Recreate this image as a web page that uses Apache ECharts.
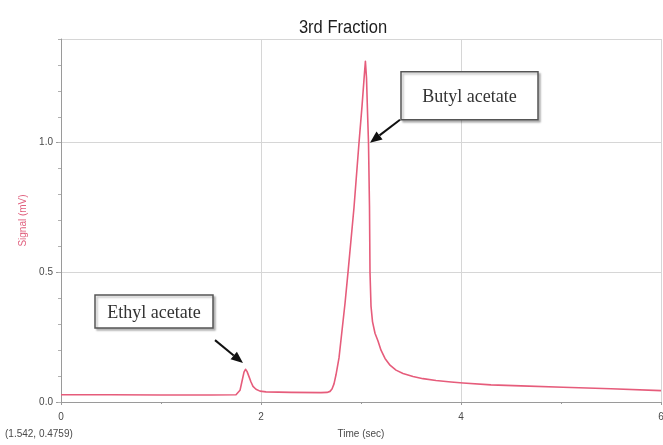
<!DOCTYPE html>
<html>
<head>
<meta charset="utf-8">
<script src="https://cdn.jsdelivr.net/npm/echarts@6/dist/echarts.min.js"></script>
<style>
  html, body { margin: 0; padding: 0; background: #ffffff; }
  #chart { width: 663px; height: 445px; }
</style>
</head>
<body>
<div id="chart"></div>
<script>
// Chromatogram trace: retention time (s) and detector signal (mV)
const timeSec = [
  0.00, 0.50, 1.00, 1.50, 1.75, 1.77, 1.79, 1.81, 1.83, 1.845, 1.86, 1.88, 1.90, 1.92,
  1.95, 1.99, 2.05, 2.30, 2.60, 2.66, 2.69, 2.71, 2.73, 2.75, 2.78, 2.80, 2.84, 2.87,
  2.93, 2.98, 3.01, 3.035, 3.044, 3.055, 3.065, 3.075, 3.085, 3.09, 3.10, 3.115, 3.14,
  3.17, 3.20, 3.24, 3.29, 3.35, 3.42, 3.52, 3.62, 3.75, 3.90, 4.02, 4.30, 4.60, 5.02,
  5.50, 6.00
];
const signalMv = [
  0.028, 0.028, 0.027, 0.027, 0.028, 0.031, 0.045, 0.080, 0.115, 0.126, 0.118, 0.098, 0.077, 0.060,
  0.049, 0.042, 0.039, 0.037, 0.036, 0.037, 0.041, 0.050, 0.070, 0.105, 0.170, 0.240, 0.380, 0.500,
  0.750, 1.000, 1.140, 1.270, 1.314, 1.250, 1.120, 1.000, 0.750, 0.500, 0.370, 0.310, 0.265,
  0.235, 0.200, 0.168, 0.142, 0.123, 0.110, 0.098, 0.090, 0.083, 0.077, 0.073, 0.066, 0.062, 0.057,
  0.051, 0.044
];

// Peak call-outs: label and the point on the trace the arrow points at
const peakNames = ['Ethyl acetate', 'Butyl acetate'];
const peakTime = [1.82, 3.09];
const peakSignal = [0.15, 1.00];

const chartTitle = '3rd Fraction';
const cursorReadout = '(1.542, 0.4759)';

const chart = echarts.init(document.getElementById('chart'), null, { renderer: 'canvas' });

const axisGray = '#9a9a9a';
const gridGray = '#d6d6d6';
const labelGray = '#4a4a4a';
const traceColor = '#e65c7b';

chart.setOption({
  backgroundColor: '#ffffff',
  animation: false,
  grid: { left: 61, right: 2, top: 39, bottom: 43, outerBoundsMode: 'none', containLabel: false },
  xAxis: {
    type: 'value',
    min: 0, max: 6, interval: 2,
    name: 'Time (sec)',
    nameLocation: 'middle',
    nameGap: 27,
    nameTextStyle: { fontFamily: 'Liberation Sans', fontSize: 10, color: labelGray },
    axisLine: { lineStyle: { color: axisGray, width: 1 } },
    axisTick: { show: true, length: 3, lineStyle: { color: axisGray } },
    minorTick: { show: true, splitNumber: 2, length: 2, lineStyle: { color: axisGray } },
    axisLabel: { fontFamily: 'Liberation Sans', fontSize: 10, color: labelGray, margin: 10 },
    splitLine: { show: true, lineStyle: { color: gridGray, width: 1 } }
  },
  yAxis: [
    {
      type: 'value',
      min: 0, max: 1.4, interval: 0.5,
      name: 'Signal (mV)',
      nameLocation: 'middle',
      nameRotate: 90,
      nameGap: 32,
      nameTextStyle: { fontFamily: 'Liberation Sans', fontSize: 10, color: '#e0607e' },
      axisLine: { show: true, lineStyle: { color: axisGray, width: 1 } },
      axisTick: { show: true, length: 5, lineStyle: { color: axisGray } },
      axisLabel: {
        fontFamily: 'Liberation Sans', fontSize: 10, color: labelGray, margin: 8,
        showMaxLabel: false,
        formatter: v => v.toFixed(1)
      },
      splitLine: { show: true, lineStyle: { color: gridGray, width: 1 } }
    },
    {
      // finer tick marks every 0.1 mV
      type: 'value',
      min: 0, max: 1.4, interval: 0.1,
      position: 'left',
      axisLine: { show: false },
      axisTick: { show: true, length: 3, lineStyle: { color: '#b0b0b0' } },
      axisLabel: { show: false },
      splitLine: { show: false }
    }
  ],
  series: [{
    type: 'line',
    yAxisIndex: 0,
    data: timeSec.map((t, i) => [t, signalMv[i]]),
    showSymbol: false,
    smooth: false,
    lineStyle: { color: traceColor, width: 1.6, join: 'round' },
    z: 3
  }]
});

// Draw the call-out boxes with arrows pointing at each peak
function callout(name, tip, box, start) {
  const els = [];
  const ang = Math.atan2(tip[1] - start[1], tip[0] - start[0]);
  const headLen = 12, headHalf = 5;
  const bx = tip[0] - headLen * Math.cos(ang);
  const by = tip[1] - headLen * Math.sin(ang);
  const nx = -Math.sin(ang), ny = Math.cos(ang);
  els.push({
    type: 'rect',
    shape: { x: box[0], y: box[1], width: box[2], height: box[3] },
    style: {
      fill: '#ffffff', stroke: '#555555', lineWidth: 1.5,
      shadowBlur: 2, shadowOffsetX: 2, shadowOffsetY: 2, shadowColor: 'rgba(0,0,0,0.25)'
    },
    z: 20
  });
  els.push({
    type: 'text',
    x: box[0] + box[2] / 2,
    y: box[1] + box[3] / 2 + 1,
    scaleX: 0.95,
    style: {
      text: name, fill: '#333333',
      font: '19px "Liberation Serif", "DejaVu Serif", serif',
      align: 'center', verticalAlign: 'middle'
    },
    z: 21
  });
  els.push({
    type: 'line',
    shape: { x1: start[0], y1: start[1], x2: bx, y2: by },
    style: { stroke: '#111111', lineWidth: 2 },
    z: 22
  });
  els.push({
    type: 'polygon',
    shape: { points: [
      [tip[0], tip[1]],
      [bx + nx * headHalf, by + ny * headHalf],
      [bx - nx * headHalf, by - ny * headHalf]
    ] },
    style: { fill: '#111111' },
    z: 22
  });
  return els;
}

const tipEthyl = chart.convertToPixel({ gridIndex: 0 }, [peakTime[0], peakSignal[0]]);
const tipButyl = chart.convertToPixel({ gridIndex: 0 }, [peakTime[1], peakSignal[1]]);

const graphics = []
  .concat(callout(peakNames[0], tipEthyl,
    [tipEthyl[0] - 148, tipEthyl[1] - 68, 118, 33],
    [tipEthyl[0] - 28, tipEthyl[1] - 23]))
  .concat(callout(peakNames[1], tipButyl,
    [tipButyl[0] + 31, tipButyl[1] - 71, 137, 48],
    [tipButyl[0] + 30, tipButyl[1] - 23]));

// Condensed chart title
graphics.push({
  type: 'text',
  x: 343,
  y: 28,
  scaleX: 0.87,
  style: {
    text: chartTitle, fill: '#1e1e1e',
    font: '19px "Liberation Sans", sans-serif',
    align: 'center', verticalAlign: 'middle'
  },
  z: 10
});

graphics.push({
  type: 'text',
  left: 5,
  top: 429,
  style: { text: cursorReadout, fill: labelGray, font: '10px "Liberation Sans", sans-serif' },
  z: 10
});

chart.setOption({ graphic: graphics });
</script>
</body>
</html>
